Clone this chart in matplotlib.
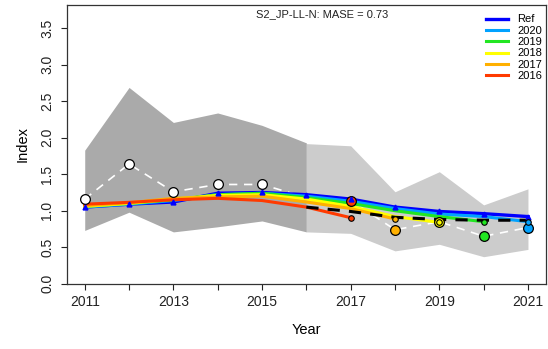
import matplotlib
matplotlib.use('Agg')
from matplotlib import pyplot as plt

plt.rcParams['font.family'] = ['Liberation Sans', 'DejaVu Sans']

years = [2011, 2012, 2013, 2014, 2015, 2016, 2017, 2018, 2019, 2020, 2021]

# confidence bands: fitted period (dark) and hindcast period (light)
band_fit_years = [2011, 2012, 2013, 2014, 2015, 2016]
band_fit_upper = [1.83, 2.69, 2.21, 2.34, 2.17, 1.93]
band_fit_lower = [0.73, 0.98, 0.71, 0.78, 0.86, 0.71]
band_hc_years = [2016, 2017, 2018, 2019, 2020, 2021]
band_hc_upper = [1.92, 1.89, 1.26, 1.535, 1.08, 1.30]
band_hc_lower = [0.71, 0.69, 0.45, 0.54, 0.37, 0.47]

# observed index
obs = [1.16, 1.64, 1.26, 1.36, 1.36, 1.18, 1.14, 0.74, 0.85, 0.65, 0.77]

# reference run and retrospective peels
ref = [1.05, 1.09, 1.12, 1.24, 1.25, 1.22, 1.16, 1.05, 0.99, 0.96, 0.92]
peel_labels = ['2020', '2019', '2018', '2017', '2016']
peel_colors = ['#00A2FF', '#22E622', '#FFFF00', '#FFB000', '#FF3A00']
peel_values = [
    [1.05, 1.09, 1.14, 1.22, 1.24, 1.20, 1.13, 1.03, 0.955, 0.92, 0.85],
    [1.06, 1.10, 1.15, 1.22, 1.24, 1.18, 1.10, 1.00, 0.92, 0.85],
    [1.06, 1.10, 1.16, 1.21, 1.22, 1.16, 1.06, 0.92, 0.84],
    [1.07, 1.11, 1.17, 1.19, 1.20, 1.12, 1.03, 0.887],
    [1.09, 1.115, 1.15, 1.17, 1.14, 1.05, 0.905],
]

# one-step-ahead prediction path
pred_years = [2016, 2017, 2018, 2019, 2020, 2021]
pred = [1.05, 0.99, 0.91, 0.88, 0.87, 0.87]

fig = plt.figure(figsize=(5.48, 3.49), dpi=100)
ax = fig.add_axes([67 / 548, 1 - 283.7 / 349, 478.7 / 548, 279 / 349])

ax.fill_between(band_fit_years, band_fit_lower, band_fit_upper,
                color='#AAAAAA', lw=0)
ax.fill_between(band_hc_years, band_hc_lower, band_hc_upper,
                color='#CCCCCC', lw=0)

ax.plot(years, obs, color='white', lw=1.2, ls=(0, (5, 4)), zorder=2)

ax.plot(years, ref, color='#0000FF', lw=2.4, zorder=3)
ax.plot(years, ref, ls='none', marker='^', ms=3.5, color='#0000FF', zorder=6)
for vals, col in zip(peel_values, peel_colors):
    yrs = years[:len(vals)]
    ax.plot(yrs, vals, color=col, lw=2.2, zorder=3)

ax.plot(pred_years, pred, color='black', lw=2.2, ls=(0, (4, 3)), zorder=4)

# end points of each peel
for vals, col in zip(peel_values, peel_colors):
    ax.plot(years[len(vals) - 1], vals[-1], 'o', ms=4, mfc=col,
            mec='black', mew=0.8, zorder=7)

# observations, coloured where they are hindcast targets
obs_colors = ['white'] * 5 + [None] + peel_colors[::-1]
for yr, v, col in zip(years, obs, obs_colors):
    if col is None:
        continue
    ax.plot(yr, v, 'o', ms=7, mfc=col, mec='black', mew=0.9, zorder=5)

ax.set_xlim(2010.6, 2021.4)
ax.set_ylim(0, 3.824)
ax.set_xticks(years)
ax.set_xticklabels([str(y) if y % 2 == 1 else '' for y in years])
ax.set_yticks([0, 0.5, 1, 1.5, 2, 2.5, 3, 3.5])
ax.set_yticklabels(['0.0', '0.5', '1.0', '1.5', '2.0', '2.5', '3.0', '3.5'],
                   rotation=90, va='center')
ax.tick_params(axis='both', direction='out', length=4, width=0.8,
               labelsize=10, colors='#222222')
ax.tick_params(axis='x', pad=4)
ax.tick_params(axis='y', pad=5)
for s in ax.spines.values():
    s.set_linewidth(0.9)
    s.set_color('#333333')

ax.set_xlabel('Year', fontsize=10.5, labelpad=10)
ax.set_ylabel('Index', fontsize=10.5, labelpad=8)

ax.text(0.532, 0.966, 'S2_JP-LL-N: MASE = 0.73', transform=ax.transAxes,
        ha='center', va='center', fontsize=8, color='#222222')

handles = [plt.Line2D([], [], color='#0000FF', lw=2.4)]
handles += [plt.Line2D([], [], color=c, lw=2.2) for c in peel_colors]
ax.legend(handles, ['Ref'] + peel_labels, loc='upper right', frameon=False,
          fontsize=8, handlelength=2.0, handletextpad=0.8, labelspacing=0.12,
          borderaxespad=0.2, bbox_to_anchor=(1.006, 0.989))

fig.savefig('out.png', dpi=100)
